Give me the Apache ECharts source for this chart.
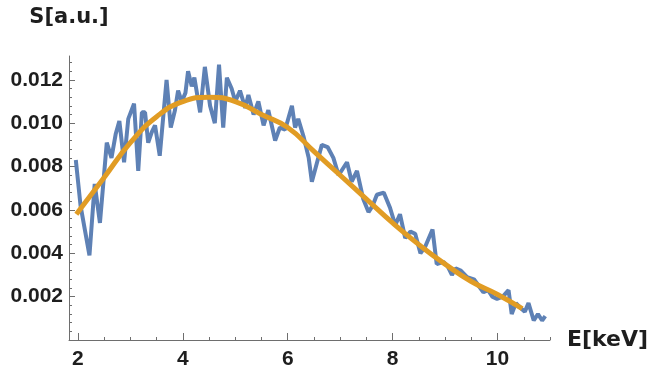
<!DOCTYPE html>
<html>
<head>
<meta charset="utf-8">
<script src="https://cdn.jsdelivr.net/npm/echarts@6/dist/echarts.min.js"></script>
<style>
html, body { margin: 0; padding: 0; background: #fff; }
#Chart { width: 652px; height: 367px; }
</style>
</head>
<body>
<div id="Chart"></div>
<script>
// measured spectrum (noisy)
var blueE = [1.96, 2.05, 2.22, 2.32, 2.42, 2.55, 2.64, 2.72, 2.79, 2.88, 2.96, 3.07, 3.15, 3.22, 3.28, 3.34, 3.41, 3.47, 3.56, 3.69,
    3.77, 3.85, 3.91, 3.98, 4.05, 4.10, 4.17, 4.22, 4.33, 4.42, 4.52, 4.61, 4.69, 4.77, 4.84, 4.93, 5.00, 5.09, 5.19, 5.25,
    5.35, 5.44, 5.54, 5.63, 5.76, 5.85, 5.95, 6.08, 6.14, 6.20, 6.30, 6.40, 6.46, 6.56, 6.65, 6.76, 6.87, 6.97, 7.05, 7.13,
    7.22, 7.32, 7.44, 7.54, 7.62, 7.70, 7.83, 7.95, 8.05, 8.14, 8.24, 8.34, 8.43, 8.53, 8.62, 8.76, 8.84, 8.97, 9.05, 9.13,
    9.20, 9.30, 9.42, 9.55, 9.67, 9.73, 9.82, 9.90, 9.99, 10.10, 10.21, 10.27, 10.35, 10.43, 10.52, 10.59, 10.69, 10.77, 10.85, 10.91];
var blueS = [0.0083, 0.0062, 0.0039, 0.0072, 0.0054, 0.0091, 0.0084, 0.0095, 0.0101, 0.0082, 0.0102, 0.0109, 0.0078, 0.0105, 0.0105, 0.0091, 0.0096, 0.0099, 0.0085, 0.0120,
    0.0098, 0.0106, 0.0115, 0.0110, 0.0114, 0.0124, 0.0117, 0.0121, 0.0105, 0.0126, 0.0108, 0.0100, 0.0127, 0.0098, 0.0121, 0.0116, 0.0110, 0.0115, 0.0107, 0.0113,
    0.0104, 0.0110, 0.0099, 0.0106, 0.0092, 0.0098, 0.0097, 0.0108, 0.0098, 0.0102, 0.0094, 0.0084, 0.0073, 0.0082, 0.0090, 0.0089, 0.0084, 0.0076, 0.0079, 0.0082,
    0.0073, 0.0078, 0.0065, 0.0059, 0.0062, 0.0067, 0.0068, 0.0061, 0.0053, 0.0058, 0.0047, 0.0050, 0.0049, 0.0040, 0.0043, 0.0051, 0.0035, 0.0036, 0.0034, 0.0030,
    0.0033, 0.0032, 0.0029, 0.0028, 0.0024, 0.0022, 0.0023, 0.0020, 0.0019, 0.0020, 0.0023, 0.0012, 0.0017, 0.0015, 0.0013, 0.0017, 0.0009, 0.0012, 0.0009, 0.0011];
// fitted curve
var fitE = [1.97, 2.5, 3.0, 3.5, 4.0, 4.5, 5.0, 5.5, 6.0, 6.5, 7.0, 7.5, 8.0, 8.5, 9.0, 9.5, 10.0, 10.47];
var fitS = [0.0058, 0.0075, 0.0091, 0.0103, 0.0110, 0.0112, 0.0110, 0.0104, 0.0098, 0.0087, 0.0076, 0.0065, 0.0054, 0.0044, 0.0035, 0.0027, 0.0021, 0.00145];
// ticks
var xTicks = [2, 4, 6, 8, 10];
var yTicks = [0.002, 0.004, 0.006, 0.008, 0.010, 0.012];
var xMinor = [2.5, 3, 3.5, 4.5, 5, 5.5, 6.5, 7, 7.5, 8.5, 9, 9.5, 10.5, 11];
var yMinor = [0.0004, 0.0008, 0.0012, 0.0016, 0.0024, 0.0028, 0.0032, 0.0036, 0.0044, 0.0048, 0.0052, 0.0056,
    0.0064, 0.0068, 0.0072, 0.0076, 0.0084, 0.0088, 0.0092, 0.0096, 0.0104, 0.0108, 0.0112, 0.0116, 0.0124, 0.0128];

var axisColor = "#6e6e6e";
var textColor = "#1e1e1e";
var xMin = 1.83, xMax = 11.0, yMin = 0, yMax = 0.0131;

function pairs(a, b) {
    var out = [];
    for (var i = 0; i < a.length; i++) {
        out.push([a[i], b[i]]);
    }
    return out;
}

var myChart = echarts.init(document.getElementById("Chart"));
var option = {
    animation: false,
    grid: {
        left: 69,
        right: 102,
        top: 56,
        bottom: 27,
        outerBoundsMode: 'none'
    },
    xAxis: [{
        type: 'value',
        min: xMin,
        max: xMax,
        name: 'E[keV]',
        nameLocation: 'end',
        nameGap: 17,
        nameTextStyle: {
            fontFamily: 'DejaVu Sans',
            fontWeight: 'bold',
            fontSize: 22,
            color: textColor,
            align: 'left',
            verticalAlign: 'middle',
            padding: [0, 0, 6, 0]
        },
        axisLine: { show: true, onZero: false, lineStyle: { color: axisColor, width: 1 } },
        axisTick: { show: true, inside: true, length: 7, customValues: xTicks, lineStyle: { color: axisColor } },
        axisLabel: {
            customValues: xTicks,
            margin: 9,
            fontFamily: 'Liberation Sans',
            fontWeight: 'bold',
            fontSize: 21,
            color: textColor
        },
        splitLine: { show: false }
    }, {
        type: 'value',
        min: xMin,
        max: xMax,
        position: 'bottom',
        axisLine: { show: false },
        axisTick: { show: true, inside: true, length: 3, customValues: xMinor, lineStyle: { color: axisColor } },
        axisLabel: { show: false },
        splitLine: { show: false }
    }],
    yAxis: [{
        type: 'value',
        min: yMin,
        max: yMax,
        name: 'S[a.u.]',
        nameLocation: 'end',
        nameGap: 38,
        nameTextStyle: {
            fontFamily: 'DejaVu Sans',
            fontWeight: 'bold',
            fontSize: 21,
            color: textColor,
            align: 'center',
            verticalAlign: 'middle'
        },
        axisLine: { show: true, onZero: false, lineStyle: { color: axisColor, width: 1 } },
        axisTick: { show: true, inside: true, length: 6, customValues: yTicks, lineStyle: { color: axisColor } },
        axisLabel: {
            customValues: yTicks,
            margin: 6,
            fontFamily: 'Liberation Sans',
            fontWeight: 'bold',
            fontSize: 21,
            color: textColor,
            formatter: function (v) { return v.toFixed(3); }
        },
        splitLine: { show: false }
    }, {
        type: 'value',
        min: yMin,
        max: yMax,
        position: 'left',
        axisLine: { show: false },
        axisTick: { show: true, inside: true, length: 3, customValues: yMinor, lineStyle: { color: axisColor } },
        axisLabel: { show: false },
        splitLine: { show: false }
    }],
    series: [
        {
            name: 'data',
            type: 'line',
            data: pairs(blueE, blueS),
            showSymbol: false,
            lineStyle: { color: '#5e81b5', width: 4 },
            itemStyle: { color: '#5e81b5' },
            z: 2
        },
        {
            name: 'fit',
            type: 'line',
            data: pairs(fitE, fitS),
            smooth: true,
            showSymbol: false,
            lineStyle: { color: '#e19c24', width: 5 },
            itemStyle: { color: '#e19c24' },
            z: 3
        }
    ]
};
myChart.setOption(option);
window.addEventListener("resize", function () {
    myChart.resize();
});
</script>
</body>
</html>
